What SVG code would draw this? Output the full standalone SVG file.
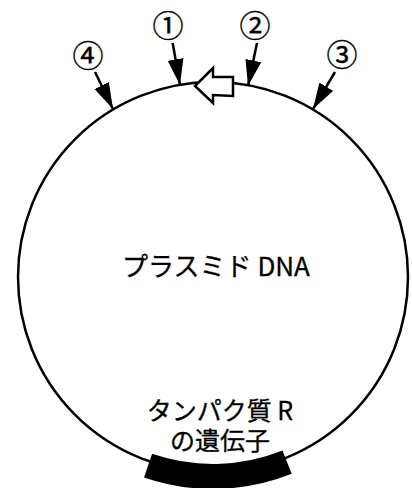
<svg xmlns="http://www.w3.org/2000/svg" width="412" height="488" viewBox="0 0 412 488">
<style>
.ln{fill:none;stroke:#000;stroke-width:2.5}
.t{font-family:"Noto Sans CJK JP","Noto Sans",sans-serif;fill:#000;text-anchor:middle;stroke:#000;stroke-width:0.3}
.num{font-family:"Noto Sans CJK JP","DejaVu Sans",sans-serif;font-size:31px;fill:#000;stroke:#000;stroke-width:0.4;text-anchor:middle;dominant-baseline:central}
</style>
<defs>
<marker id="ah" markerUnits="userSpaceOnUse" markerWidth="28" markerHeight="18" refX="26" refY="8" orient="auto">
<path d="M0,0 L26,8 L0,16 Z" fill="#000"/>
</marker>
</defs>
<g id="plasmid">
<circle class="ln" cx="213" cy="277" r="195"/>
<text class="t" x="216" y="276" font-size="26">プラスミド DNA</text>
</g>
<g id="gene">
<path d="M152.1,453.8 A187,187 0 0 0 282.5,450.6 L291.7,473.8 A212,212 0 0 1 144.0,477.4 Z" fill="#000"/>
<text class="t" x="220" y="420" font-size="25">タンパク質 R</text>
<text class="t" x="220" y="450" font-size="25">の遺伝子</text>
</g>
<g id="direction">
<path d="M195,86 L213,68 L213,77 L233,77 L233,96 L213,95 L213,103 Z" fill="#fff" stroke="#000" stroke-width="2.5" stroke-linejoin="miter"/>
</g>
<g id="labels">
<text class="num" x="168" y="23">①</text>
<text class="num" x="255" y="23">②</text>
<text class="num" x="342" y="52">③</text>
<text class="num" x="88" y="53">④</text>
</g>
<g id="connectors">
<line class="ln" x1="172.7" y1="43" x2="180" y2="85" marker-end="url(#ah)"/>
<line class="ln" x1="257" y1="43" x2="248" y2="86" marker-end="url(#ah)"/>
<line class="ln" x1="335" y1="72" x2="313" y2="109" marker-end="url(#ah)"/>
<line class="ln" x1="95" y1="72" x2="113" y2="109" marker-end="url(#ah)"/>
</g>
</svg>
